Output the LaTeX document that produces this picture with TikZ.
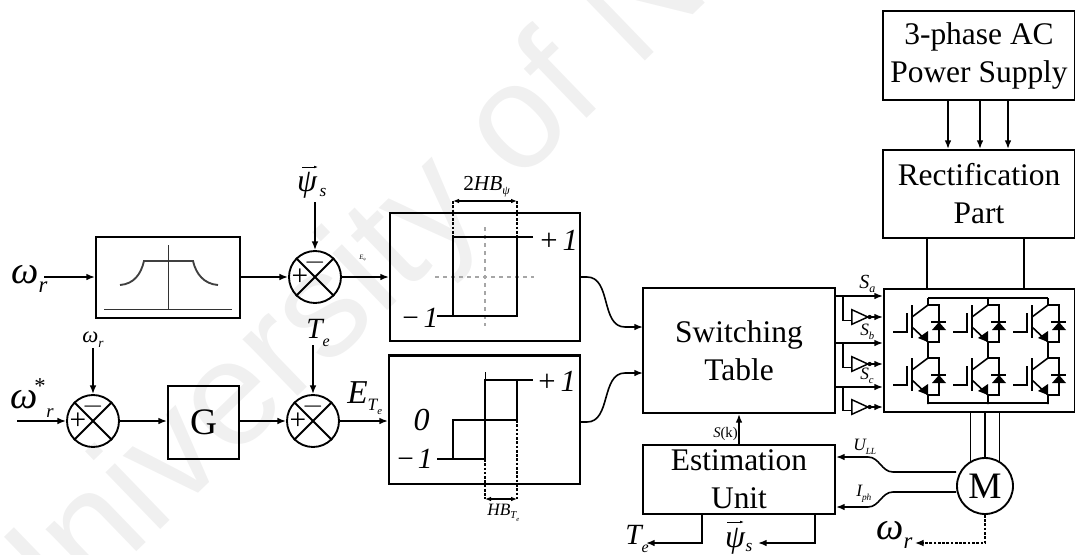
\documentclass[tikz,border=0pt]{standalone}
\usepackage{fontspec}
\setmainfont{Liberation Serif}
\newfontfamily\wmfont{Liberation Sans}
\usetikzlibrary{arrows.meta, shapes.geometric}
\newcommand{\fs}[1]{\fontsize{#1}{#1}\selectfont}
\newcommand{\sbs}[3]{\raisebox{#1pt}{\fs{#2}#3}}
\tikzset{
	>={Latex[length=6.5pt,width=5pt]},
	blk/.style 2 args={draw, line width=1.5pt, inner sep=0pt, align=center, font=\fontsize{23.6}{28.5}\selectfont, minimum width=#1*0.75pt, minimum height=#2*0.75pt},
	sumc/.style={draw, circle, line width=1.4pt, inner sep=0pt, minimum size=39pt},
	arr/.style={->, line width=1.2pt},
	dim/.style={<->, >={Latex[length=4.5pt,width=3.5pt]}, line width=0.9pt},
	dotl/.style={line width=0.9pt, dash pattern=on 2pt off 1.2pt},
	lab/.style={inner sep=0pt, font=\fs{#1}\itshape},
	vecarr/.style={->, >={Latex[length=3pt,width=2pt]}, line width=0.5pt},
	trace/.style={line width=1.2pt},
	notg/.style={draw, line width=1.1pt, isosceles triangle, isosceles triangle stretches, inner sep=0pt, minimum height=12pt, minimum width=11pt}
}
\begin{document}
\begin{tikzpicture}[x=0.75pt, y=-0.75pt]
	\useasboundingbox (0,0) rectangle (1075,554);
	\begin{scope}
		\clip (0,0) rectangle (1075,554);
		\node[rotate=44, anchor=base west, inner sep=0pt, text=black!6, font=\fs{112}\wmfont] (wmark) at (16,669) {University of N};
	\end{scope}

	\node[blk={144}{81}] (lpf) at (168,277.5) {};
	\node[blk={190}{128}] (hystA) at (485,277) {};
	\node[blk={191}{128}] (hystB) at (484.5,420) {};
	\node[blk={71}{73}, font=\fs{28}] (gain) at (203.5,422.5) {G};
	\node[blk={192}{125}] (tbl) at (739,350.5) {Switching\\Table};
	\node[blk={192}{69}] (est) at (739,479.5) {Estimation\\Unit};
	\node[blk={192}{89}] (supply) at (979,55.5) {3-phase AC\\Power Supply};
	\node[blk={192}{88}] (rect) at (979,194) {Rectification\\Part};
	\node[blk={191}{123}] (inv) at (979.5,350.5) {};
	\node[draw, circle, line width=1.4pt, inner sep=0pt, minimum size=42pt, font=\fs{28}] (motor) at (985,486) {M};
	\draw[line width=2pt] (hystB.north west) -- (hystB.north east);

	\foreach \n/\x/\y in {sA/315/277, sB/93/421, sC/313/421}
	{
		\node[sumc] (\n) at (\x,\y) {};
		\draw[line width=1.4pt] (\n.45) -- (\n.225);
		\draw[line width=1.4pt] (\n.135) -- (\n.315);
		\node[inner sep=0pt, font=\fs{22}] (\n p) at (\x-15,\y) {+};
		\node[inner sep=0pt, font=\fs{22}] (\n m) at (\x,\y-14) {$-$};
	}

	\node[lab=29, anchor=west] (wrA) at (11,279) {ω\sbs{-7}{17}{r}};
	\node[lab=29] (wsB) at (24,400) {ω};
	\node[lab=17] (stB) at (40,386) {\upshape *};
	\node[lab=14] (rB) at (50,413) {r};
	\node[lab=17, anchor=west] (wrC) at (82,340) {ω\sbs{-4}{10}{r}};
	\node[lab=24] (psiA) at (307,185) {ψ};
	\node[lab=13] (ssA) at (323,192) {s};
	\node[lab=22, anchor=west] (teA) at (306,333) {T\sbs{-6}{12}{e}};
	\node[lab=25, anchor=west] (eT) at (347,398) {E\sbs{-5}{13}{T\sbs{-3}{8}{e}}};
	\node[lab=5, anchor=west] (eP) at (359,258) {E\sbs{-1}{3}{ψ}};
	\node[lab=16, anchor=west] (hbA) at (463,187) {\upshape 2\itshape HB\sbs{-3}{9}{ψ}};
	\node[lab=13, anchor=west] (hbB) at (487,513) {HB\sbs{-2}{8}{T\sbs{-2}{5}{e}}};
	\node[lab=23, anchor=west] (pA) at (540,240) {\upshape +\,\itshape 1};
	\node[lab=22, anchor=west] (mA) at (402,318) {\upshape −\,\itshape 1};
	\node[lab=23, anchor=west] (pB) at (538,381) {\upshape +\,\itshape 1};
	\node[lab=24] (zB) at (421.5,420) {0};
	\node[lab=22, anchor=west] (mB) at (397,459) {\upshape −\hspace{3pt}\itshape 1};
	\node[lab=15, anchor=west] (saL) at (859,284) {S\sbs{-3}{9}{a}};
	\node[lab=13, anchor=west] (sbL) at (860,332) {S\sbs{-3}{8}{b}};
	\node[lab=13, anchor=west] (scL) at (860,376) {S\sbs{-3}{8}{c}};
	\node[lab=11, anchor=west] (skL) at (713,434) {S\upshape (k)};
	\node[lab=13, anchor=west] (uL) at (853,447) {U\sbs{-3}{7}{LL}};
	\node[lab=13, anchor=west] (iL) at (856,494) {I\sbs{-3}{7}{ph}};
	\node[lab=22, anchor=west] (teD) at (625,539) {T\sbs{-6}{12}{e}};
	\node[lab=24] (psiD) at (735,541) {ψ};
	\node[lab=13] (ssD) at (749,547) {s};
	\node[lab=29, anchor=west] (wrD) at (876,535) {ω\sbs{-7}{17}{r}};
	\draw[vecarr] ([shift={(-5,-18)}]psiA.center) -- ++(16,0);
	\draw[vecarr] ([shift={(-8,-19)}]psiD.center) -- ++(17,0);

	\coordinate (wrIn) at (44,277);
	\coordinate (wsIn) at (17,421);
	\draw[arr] (wrIn) -- (lpf.west |- wrIn);
	\draw[arr] (lpf.east |- sA.west) -- (sA.west);
	\draw[arr] (sA.east) -- (hystA.west);
	\draw[arr] (wsIn) -- (sB.west);
	\draw[arr] (sB.east) -- (gain.west |- sB.east);
	\draw[arr] (gain.east |- sC.west) -- (sC.west);
	\draw[arr] (sC.east) -- (hystB.west |- sC.east);
	\draw[arr] (sA |- 0,202) -- (sA.north);
	\draw[arr] (sB |- 0,348) -- (sB.north);
	\draw[arr] (sC |- 0,345) -- (sC.north);

	\coordinate (tblA) at (643,327);
	\coordinate (tblB) at (643,373);
	\draw[arr] (hystA.east) -- ++(6,0) to[out=0, in=180] ++(38,50) -- (tblA);
	\draw[arr] (hystB.east |- 0,422) -- ++(6,0) to[out=0, in=180] ++(38,-49) -- (tblB);
	\draw[arr] (est.north) -- (tbl.south);

	\foreach \x in {948, 980, 1008}
		\draw[arr] (supply.south -| \x,0) -- (rect.north -| \x,0);
	\foreach \x in {927, 1024}
		\draw[trace] (rect.south -| \x,0) -- (inv.north -| \x,0);
	\foreach \a in {120, 90, 60}
		\draw[trace] (inv.south -| motor.\a) -- (motor.\a);

	\foreach \t/\s/\y in {a/296/317, b/343/364, c/387/407}
	{
		\draw[arr] (tbl.east |- 0,\s) -- (inv.west |- 0,\s);
		\node[notg] (n\t) at (856.5,\y) {};
		\draw[trace] (843,\s) |- ([yshift=-2.5pt]n\t.west);
		\draw[arr] (n\t.east) -- (inv.west |- n\t.east);
		\fill (n\t.east) circle (1.6pt);
	}

	\draw[arr] (motor.west |- 0,472) -- (893,472) to[out=180, in=0] (868,457) -- (est.east |- 0,457);
	\draw[arr] (motor.west |- 0,492) -- (893,492) to[out=180, in=0] (868,507) -- (est.east |- 0,507);

	\coordinate (teOut) at (646,543);
	\coordinate (psiOut) at (758,543);
	\coordinate (wrOut) at (915,543);
	\draw[arr] (est.south -| 702,0) |- (teOut);
	\draw[arr] (est.south -| 815,0) |- (psiOut);
	\draw[arr, dotl] (motor.south) |- (wrOut);

	\draw[line width=1.4pt, black!75] (120,285) .. controls (134,284) and (141,274) .. (144,261) -- (193,261) .. controls (196,274) and (204,284) .. (218,285);
	\draw[line width=0.5pt, black!80] (168.5,245) -- (168.5,310);
	\draw[line width=0.5pt, black!80] (104,309) -- (232,309);

	\draw[line width=0.8pt, black!35, dashed] (435,277) -- (534,277);
	\draw[line width=0.8pt, black!35, dashed] (485,227) -- (485,326);
	\draw[line width=1.2pt] (437,316) -- (517,316) -- (517,237);
	\draw[line width=1.2pt] (533,237) -- (453,237);
	\draw[line width=1.8pt] (453,237) -- (453,316);
	\draw[dotl] (453,201) -- (453,237);
	\draw[dotl] (517,201) -- (517,237);
	\draw[dim] (453,201) -- (517,201);

	\draw[line width=1.2pt] (437,459) -- (485,459) -- (485,380) -- (533,380);
	\draw[line width=1.2pt] (453,459) -- (453,420) -- (517,420);
	\draw[line width=1.2pt] (517,420) -- (517,380);
	\draw[line width=0.5pt] (485,380) -- (485,372);
	\draw[dotl] (485,459) -- (485,499);
	\draw[dotl] (517,420) -- (517,499);
	\draw[dim] (485,499) -- (517,499);

	\draw[line width=1.2pt] (928,298) -- (1048,298);
	\draw[line width=1.2pt] (928,403) -- (1048,403);
	\foreach \x in {0, 60, 120}
		\foreach \y in {0, 53}
		{
			\draw[line width=1.2pt] (893+\x,332+\y) -- (907+\x,332+\y) -- (907+\x,313+\y);
			\draw[line width=1.2pt] (912+\x,305+\y) -- (912+\x,338+\y);
			\draw[line width=1.2pt] (928+\x,298+\y) -- (928+\x,305+\y) -- (912+\x,317+\y);
			\draw[line width=1.2pt] (928+\x,305+\y) -- (939+\x,305+\y) -- (939+\x,342+\y) -- (928+\x,342+\y);
			\draw[line width=1.2pt] (912+\x,327+\y) -- (928+\x,342+\y) -- (928+\x,351+\y);
			\fill (928+\x,342+\y) -- (918+\x,338+\y) -- (928+\x,331+\y) -- cycle;
			\fill (939+\x,322+\y) -- (946+\x,330+\y) -- (932+\x,330+\y) -- cycle;
			\draw[line width=1.2pt] (931+\x,322+\y) -- (946+\x,322+\y);
		}
\end{tikzpicture}
\end{document}
